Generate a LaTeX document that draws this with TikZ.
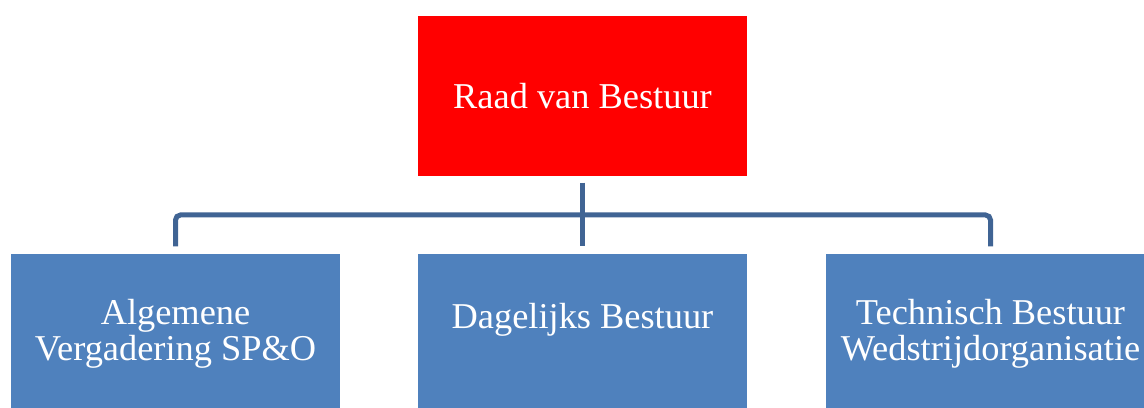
\documentclass[tikz,border=0pt]{standalone}
\usepackage{fontspec}
\setmainfont{Liberation Serif}
\usetikzlibrary{positioning}
\definecolor{boardred}{RGB}{255,0,0}
\definecolor{unitblue}{RGB}{79,129,189}
\definecolor{linkblue}{RGB}{64,100,148}
\tikzset{
    orgbox/.style={rectangle, draw=white, line width=0.6pt, text=white, align=center,
        minimum width=6.62cm, minimum height=3.24cm, inner sep=0pt,
        font=\fontsize{20.7}{20.5}\selectfont},
    topbox/.style={orgbox, fill=boardred},
    unitbox/.style={orgbox, fill=unitblue},
    link/.style={draw=linkblue, line width=0.1cm}
}
\begin{document}
\begin{tikzpicture}[x=0.02cm, y=-0.02cm]
    \useasboundingbox (0,0) rectangle (1144,408);
    \begin{scope}
    \clip (0,0) rectangle (1144,408);

    % Board
    \node[topbox] (raad) at (582.5,96) {Raad van Bestuur};

    % Units
    \node[unitbox] (alg) at (175.5,334) {Algemene\\Vergadering SP\&O};
    \node[unitbox] (dag) at (582.5,334) {Dagelijks Bestuur\\\mbox{}};
    \node[unitbox] (tech) at (990.5,334) {Technisch Bestuur\\Wedstrijdorganisatie};

    % Connectors
    \coordinate (bus) at (582.5,215);
    \draw[link, shorten <=0.1cm, shorten >=0.12cm] (raad.south) -- (dag.north);
    \draw[link, rounded corners=0.1cm, shorten >=0.12cm] (bus) -| (alg.north);
    \draw[link, rounded corners=0.1cm, shorten >=0.12cm] (bus) -| (tech.north);
    \end{scope}
\end{tikzpicture}
\end{document}
